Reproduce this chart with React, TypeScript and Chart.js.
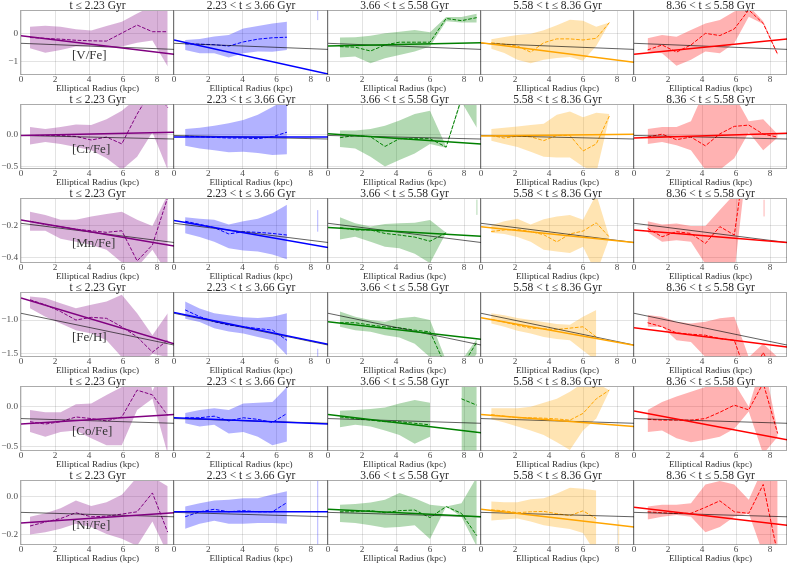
import React, { useEffect, useRef } from "react";
import { Chart, registerables } from "chart.js";

Chart.register(...registerables);

// ----------------------------------------------------------------- data
const columnTitles = [
  "t ≤ 2.23 Gyr",
  "2.23 < t ≤ 3.66 Gyr",
  "3.66 < t ≤ 5.58 Gyr",
  "5.58 < t ≤ 8.36 Gyr",
  "8.36 < t ≤ 5.58 Gyr",
];
const elementLabels = ["[V/Fe]", "[Cr/Fe]", "[Mn/Fe]", "[Fe/H]", "[Co/Fe]", "[Ni/Fe]"];
const xAxisLabel = "Elliptical Radius (kpc)";

const radiusBins = [
  [0.53, 1.43, 2.33, 3.23, 4.13, 5.03, 5.93, 6.83, 7.73, 8.63],
  [0.65, 1.5, 2.35, 3.2, 4.05, 4.9, 5.75, 6.6],
  [0.7, 1.6, 2.5, 3.35, 4.2, 5.1, 6.0, 6.95, 7.85, 8.75],
  [0.6, 1.37, 2.14, 2.92, 3.69, 4.46, 5.23, 6.0, 6.78, 7.55],
  [0.8, 1.65, 2.5, 3.35, 4.2, 5.05, 5.9, 6.75, 7.6, 8.45],
];
const fitRadius = [0, 9];
const xTickValues = [0, 2, 4, 6, 8];

const vFeMedian = [
  [-0.14, -0.17, -0.2, -0.24, -0.26, -0.27, 0.02, 0.31, 0.07, 0.07],
  [-0.37, -0.38, -0.4, -0.45, -0.3, -0.2, -0.15, -0.13],
  [-0.47, -0.49, -0.63, -0.41, -0.31, -0.31, -0.31, 0.55, 0.47, 0.58],
  [-0.33, -0.38, -0.45, -0.67, -0.33, -0.19, -0.19, -0.23, -0.17, 0.4],
  [-0.59, -0.41, -0.67, -0.41, 0.01, -0.07, 0.17, 0.86, 0.37, -0.75],
];
const vFeUpper = [
  [0.25, 0.29, 0.25, 0.16, 0.11, 0.28, 0.43, 0.73, 1.0, 1.0],
  [-0.23, -0.19, -0.1, -0.05, 0.19, 0.28, 0.37, 0.43],
  [-0.14, -0.13, -0.08, 0.01, 0.07, 0.13, 0.05, 0.6, 0.6, 0.72],
  [-0.2, -0.12, -0.05, 0.0, 0.12, 0.3, 0.5, 0.47, 0.25, 0.4],
  [-0.17, -0.05, -0.11, 0.13, 0.37, 0.49, 0.8, 1.0, 0.45, -0.7],
];
const vFeLower = [
  [-0.53, -0.69, -0.59, -0.47, -0.47, -0.51, -0.47, -0.33, -0.25, -1.19],
  [-0.59, -0.71, -0.71, -0.86, -0.71, -0.65, -0.66, -0.59],
  [-0.86, -0.83, -1.07, -0.89, -0.77, -0.65, -0.47, 0.45, 0.4, 0.4],
  [-0.55, -0.7, -0.95, -1.07, -0.95, -0.88, -0.85, -0.98, -0.45, 0.38],
  [-0.65, -0.71, -1.16, -0.95, -0.65, -0.71, -0.35, 0.61, 0.35, -0.78],
];
const vFeFit = [[-0.08, -0.75], [-0.23, -1.46], [-0.45, -0.33], [-0.33, -1.04], [-0.75, -0.19]];
const vFeReference = [-0.35, -0.57];

const crFeMedian = [
  [-0.02, -0.02, -0.02, -0.035, -0.09, -0.045, -0.15, 0.31, 0.7, 0.41],
  [-0.03, -0.04, -0.05, -0.06, -0.06, -0.07, -0.04, 0.03],
  [-0.055, -0.02, -0.04, -0.19, -0.07, -0.07, -0.07, -0.2, 0.55, 0.56],
  [-0.02, -0.06, -0.03, -0.04, -0.1, -0.02, -0.02, -0.26, -0.15, 0.28],
  [-0.045, 0, -0.085, -0.045, -0.18, 0.005, 0.12, 0.14, 0, -0.045],
];
const crFeUpper = [
  [0.11, 0.08, 0.11, 0.15, 0.14, 0.23, 0.36, 0.56, 1.0, 1.0],
  [0.08, 0.1, 0.13, 0.17, 0.22, 0.3, 0.42, 0.54],
  [0.055, 0.055, 0.08, 0.13, 0.21, 0.31, 0.36, -0.19, 0.58, 0.6],
  [0.08, 0.1, 0.12, 0.14, 0.16, 0.3, 0.35, 0.26, 0.33, 0.31],
  [0.08, 0.11, 0.11, 0.2, 0.7, 0.8, 0.6, 0.2, 0.23, 0.0],
];
const crFeLower = [
  [-0.16, -0.12, -0.15, -0.2, -0.25, -0.37, -0.55, -0.35, 0.03, -0.55],
  [-0.18, -0.22, -0.25, -0.28, -0.27, -0.29, -0.32, -0.31],
  [-0.2, -0.22, -0.35, -0.5, -0.4, -0.3, -0.15, -0.21, 0.5, 0.1],
  [-0.1, -0.15, -0.2, -0.27, -0.35, -0.36, -0.36, -0.5, -0.6, 0.26],
  [-0.15, -0.12, -0.17, -0.25, -0.55, -0.55, -0.37, 0.03, -0.25, -0.05],
];
const crFeFit = [[-0.02, 0.03], [-0.045, -0.045], [0.005, -0.15], [-0.03, 0.0], [-0.06, 0.015]];
const crFeReference = [-0.02, -0.075];

const mnFeMedian = [
  [-0.17, -0.19, -0.205, -0.22, -0.23, -0.24, -0.23, -0.42, -0.32, -0.02],
  [-0.17, -0.19, -0.21, -0.25, -0.236, -0.24, -0.247, -0.257],
  [-0.21, -0.225, -0.225, -0.247, -0.257, -0.27, -0.296, -0.243, null, null],
  [-0.235, -0.225, -0.222, -0.235, -0.255, -0.3, -0.25, -0.232, -0.18, -0.27],
  [-0.215, -0.268, -0.236, -0.247, -0.31, -0.204, -0.257, 0.39, null, null],
];
const mnFeUpper = [
  [-0.11, -0.13, -0.16, -0.16, -0.14, -0.125, -0.11, -0.16, -0.2, 0.0],
  [-0.145, -0.155, -0.16, -0.19, -0.17, -0.155, -0.12, -0.066],
  [-0.145, -0.183, -0.204, -0.187, -0.183, -0.18, -0.162, -0.243, null, null],
  [-0.195, -0.17, -0.155, -0.19, -0.157, -0.14, -0.13, -0.16, 0.0, -0.27],
  [-0.17, -0.19, -0.185, -0.2, -0.2, -0.1, 0.0, 0.5, null, null],
];
const mnFeLower = [
  [-0.23, -0.23, -0.28, -0.3, -0.32, -0.35, -0.43, -0.46, -0.35, -0.5],
  [-0.245, -0.27, -0.3, -0.34, -0.355, -0.36, -0.38, -0.41],
  [-0.285, -0.268, -0.3, -0.33, -0.34, -0.375, -0.434, -0.243, null, null],
  [-0.243, -0.25, -0.27, -0.3, -0.35, -0.36, -0.37, -0.33, -0.5, -0.275],
  [-0.24, -0.3, -0.29, -0.3, -0.44, -0.44, -0.5, 0.3, null, null],
];
const mnFeFit = [[-0.162, -0.326], [-0.166, -0.336], [-0.21, -0.264], [-0.204, -0.304], [-0.225, -0.304]];
const mnFeReference = [-0.183, -0.304];

const feHMedian = [
  [-0.7, -0.775, -0.875, -1.0, -0.96, -0.975, -1.1, -1.25, -1.475, -1.3],
  [-0.85, -0.95, -1.025, -1.075, -1.1, -1.125, -1.15, -1.3],
  [-1.04, -1.04, -1.075, -1.1, -1.115, -1.15, -1.175, -1.7, -1.7, -1.33],
  [-0.99, -1.03, -1.08, -1.12, -1.13, -1.14, -1.12, -1.1, -1.25, null],
  [-1.04, -1.1, -1.19, -1.21, -1.225, -1.275, -1.3, -1.9, -1.48, -1.9],
];
const feHUpper = [
  [-0.65, -0.675, -0.75, -0.825, -0.775, -0.725, -0.625, -0.9, -1.225, -0.9],
  [-0.725, -0.83, -0.9, -0.93, -0.96, -0.97, -0.95, -0.9],
  [-0.875, -0.95, -1.0, -1.025, -0.975, -0.95, -1.0, -1.6, -1.6, -1.28],
  [-0.9, -0.93, -0.97, -1.0, -1.03, -1.06, -1.07, -0.95, -0.85, null],
  [-0.925, -0.95, -1.025, -1.05, -1.025, -0.975, -0.95, -1.55, -1.35, -1.55],
];
const feHLower = [
  [-0.825, -0.95, -1.05, -1.15, -1.2, -1.3, -1.55, -1.7, -1.5, -1.55],
  [-0.98, -1.03, -1.12, -1.17, -1.2, -1.25, -1.3, -1.52],
  [-1.1, -1.15, -1.175, -1.225, -1.26, -1.35, -1.55, -1.8, -1.8, -1.5],
  [-1.05, -1.1, -1.16, -1.2, -1.25, -1.28, -1.3, -1.45, -1.6, null],
  [-1.1, -1.1, -1.3, -1.325, -1.55, -1.55, -1.7, -1.8, -1.7, -1.8],
];
const feHFit = [[-0.675, -1.35], [-0.89, -1.36], [-1.025, -1.285], [-0.965, -1.375], [-1.115, -1.4]];
const feHReference = [-0.9, -1.37];

const coFeMedian = [
  [-0.19, -0.22, -0.19, -0.13, -0.15, -0.18, -0.13, 0.21, 0.15, -0.11],
  [-0.14, -0.14, -0.12, -0.18, -0.14, -0.16, -0.2, -0.085],
  [-0.13, -0.15, -0.17, -0.19, -0.19, -0.21, -0.23, null, 0.1, 0.02],
  [-0.1, -0.12, -0.14, -0.14, -0.145, -0.155, -0.17, -0.085, 0.1, 0.21],
  [-0.16, -0.17, -0.17, -0.17, -0.15, -0.07, 0.02, -0.04, 0.3, -0.34],
];
const coFeUpper = [
  [-0.04, -0.07, -0.07, 0.03, 0.04, 0.15, 0.25, 1.0, 0.2, 0.6],
  [-0.08, -0.04, -0.02, -0.04, 0.04, 0.05, 0.06, 0.25],
  [-0.05, -0.04, -0.03, -0.01, 0.04, 0.085, 0.05, null, 0.3, 0.3],
  [-0.02, -0.02, -0.02, 0.0, 0.05, 0.1, 0.19, 0.3, 0.3, 0.21],
  [-0.04, 0.06, 0.13, 0.19, 0.25, 0.3, 0.3, 0.0, 0.6, -0.3],
];
const coFeLower = [
  [-0.32, -0.38, -0.32, -0.3, -0.4, -0.49, -0.49, -0.04, 0.1, -0.6],
  [-0.21, -0.25, -0.23, -0.34, -0.32, -0.38, -0.49, -0.44],
  [-0.26, -0.23, -0.25, -0.3, -0.36, -0.47, -0.38, null, -0.6, -0.6],
  [-0.16, -0.2, -0.25, -0.3, -0.36, -0.45, -0.55, -0.3, -0.15, 0.2],
  [-0.32, -0.3, -0.4, -0.45, -0.42, -0.38, -0.28, -0.06, -0.6, -0.38],
];
const coFeFit = [[-0.22, -0.1], [-0.14, -0.22], [-0.1, -0.33], [-0.1, -0.25], [-0.055, -0.42]];
const coFeReference = [-0.15, -0.21];

const niFeMedian = [
  [-0.154, -0.133, -0.115, -0.085, -0.106, -0.103, -0.092, -0.08, 0.018, -0.186],
  [-0.106, -0.08, -0.067, -0.08, -0.074, -0.08, -0.08, -0.032],
  [-0.08, -0.08, -0.074, -0.085, -0.074, -0.071, -0.11, -0.053, -0.088, -0.204],
  [-0.07, -0.075, -0.085, -0.08, -0.078, -0.09, -0.1, -0.075, -0.115, null],
  [-0.08, -0.085, -0.088, -0.088, -0.057, -0.023, -0.08, -0.088, 0.062, -0.3],
];
const niFeUpper = [
  [-0.106, -0.088, -0.062, -0.021, -0.05, -0.03, 0.009, 0.1, 0.1, 0.053],
  [-0.053, -0.035, -0.021, -0.018, -0.009, -0.009, 0.01, 0.027],
  [-0.044, -0.039, -0.032, -0.018, 0.018, -0.009, -0.044, -0.053, -0.035, 0.1],
  [-0.027, -0.03, -0.03, -0.015, -0.01, 0.015, 0.045, 0.04, 0.03, null],
  [-0.053, -0.044, -0.044, -0.035, 0.062, 0.08, 0.062, -0.018, 0.15, 0.1],
];
const niFeLower = [
  [-0.198, -0.186, -0.168, -0.142, -0.159, -0.195, -0.22, -0.257, -0.13, -0.3],
  [-0.168, -0.142, -0.127, -0.142, -0.142, -0.138, -0.138, -0.142],
  [-0.133, -0.138, -0.15, -0.163, -0.159, -0.15, -0.221, -0.053, -0.106, -0.26],
  [-0.125, -0.12, -0.115, -0.13, -0.15, -0.16, -0.17, -0.19, -0.3, null],
  [-0.12, -0.106, -0.097, -0.106, -0.186, -0.159, -0.106, -0.088, -0.3, -0.3],
];
const niFeFit = [[-0.138, -0.085], [-0.08, -0.08], [-0.067, -0.106], [-0.067, -0.159], [-0.057, -0.15]];
const niFeReference = [-0.083, -0.106];

// isolated single-bin ranges (thin vertical slivers)
const strayRow = [0, 2, 2, 2, 3, 5, 5];
const strayCol = [1, 1, 2, 4, 1, 1, 3];
const strayRadius = [8.4, 8.4, 8.76, 7.65, 8.4, 8.4, 8.1];
const strayLow = [0.49, -0.236, -0.13, -0.14, -1.55, -0.25, -0.25];
const strayHigh = [0.82, -0.1, -0.034, -0.035, -1.425, 0.08, -0.124];

const yLimits = [
  [-1.48, 0.82],
  [-0.53, 0.45],
  [-0.43, -0.03],
  [-1.54, -0.6],
  [-0.555, 0.25],
  [-0.25, 0.08],
];
const yTickValues = [
  [-1, 0],
  [-0.5, 0],
  [-0.4, -0.2],
  [-1.5, -1.0],
  [-0.5, 0.0],
  [-0.2, 0.0],
];
const yTickDecimals = [0, 1, 1, 1, 1, 1];

// ----------------------------------------------------------------- style / layout
const lineColors = ["#800080", "#0000ff", "#008000", "#ffa500", "#ff0000"];
const bandColors = [
  "rgba(128,0,128,0.3)",
  "rgba(0,0,255,0.3)",
  "rgba(0,128,0,0.3)",
  "rgba(255,165,0,0.3)",
  "rgba(255,0,0,0.3)",
];
const FONT = "'Liberation Serif', 'Times New Roman', serif";
const PAGE_W = 789;
const PAGE_H = 566;
const COL_EDGES = [21, 174, 328, 481, 634, 787];
const ROW_TOP0 = 11;
const ROW_STEP = 94;
const PLOT_H = 63.5;
const SIDE_GAP = 10;
const TITLE_SPACE = 14;
const BOTTOM_SPACE = 21;
const TITLE_GAP = 5;
const XLABEL_GAP = 14.5;
const TITLE_SIZE = 11.5;
const TITLE_LH = 0.85;
const XLABEL_SIZE = 9.2;
const TICK_SIZE = 9.2;

const elementData = [
  { median: vFeMedian, upper: vFeUpper, lower: vFeLower, fit: vFeFit, reference: vFeReference },
  { median: crFeMedian, upper: crFeUpper, lower: crFeLower, fit: crFeFit, reference: crFeReference },
  { median: mnFeMedian, upper: mnFeUpper, lower: mnFeLower, fit: mnFeFit, reference: mnFeReference },
  { median: feHMedian, upper: feHUpper, lower: feHLower, fit: feHFit, reference: feHReference },
  { median: coFeMedian, upper: coFeUpper, lower: coFeLower, fit: coFeFit, reference: coFeReference },
  { median: niFeMedian, upper: niFeUpper, lower: niFeLower, fit: niFeFit, reference: niFeReference },
];

function toPoints(xs: number[], ys: (number | null)[]) {
  return xs.map((x, i) => ({ x, y: ys[i] === undefined ? null : ys[i] }));
}

function formatTick(v: number, dec: number) {
  return Number(v).toFixed(dec).replace("-", "\u2212");
}

function Panel({ row, col }: { row: number; col: number }) {
  const ref = useRef<HTMLCanvasElement | null>(null);
  const L = COL_EDGES[col];
  const R = COL_EDGES[col + 1];
  const T = ROW_TOP0 + ROW_STEP * row;
  const B = T + PLOT_H;
  const canvasLeft = col === 0 ? 0 : L - SIDE_GAP;
  const canvasRight = col === 4 ? PAGE_W : R + SIDE_GAP;
  const canvasTop = T - TITLE_SPACE;
  const canvasBottom = Math.ceil(B + BOTTOM_SPACE);
  const w = canvasRight - canvasLeft;
  const h = canvasBottom - canvasTop;

  useEffect(() => {
    const canvas = ref.current;
    if (!canvas) return;
    const d = elementData[row];
    const xs = radiusBins[col];
    const datasets: any[] = [
      {
        data: toPoints(fitRadius, d.fit[col]),
        borderColor: lineColors[col],
        borderWidth: 1.5,
        pointRadius: 0,
        fill: false,
      },
      {
        data: toPoints(fitRadius, d.reference),
        borderColor: "rgba(0,0,0,0.62)",
        borderWidth: 1,
        pointRadius: 0,
        fill: false,
      },
      {
        data: toPoints(xs, d.median[col]),
        borderColor: lineColors[col],
        borderWidth: 1,
        borderDash: [3.7, 1.6],
        pointRadius: 0,
        fill: false,
      },
      {
        data: toPoints(xs, d.upper[col]),
        borderColor: "rgba(0,0,0,0)",
        borderWidth: 0,
        backgroundColor: bandColors[col],
        pointRadius: 0,
        fill: "+1",
      },
      {
        data: toPoints(xs, d.lower[col]),
        borderColor: "rgba(0,0,0,0)",
        borderWidth: 0,
        pointRadius: 0,
        fill: false,
      },
    ];
    strayRow.forEach((r, i) => {
      if (r === row && strayCol[i] === col) {
        datasets.push({
          data: [
            { x: strayRadius[i], y: strayLow[i] },
            { x: strayRadius[i], y: strayHigh[i] },
          ],
          borderColor: bandColors[col],
          borderWidth: 1,
          pointRadius: 0,
          fill: false,
        });
      }
    });

    const titleLh = TITLE_SIZE * TITLE_LH;
    const titlePb = Math.max(0, TITLE_GAP - titleLh / 2);
    const titlePt = TITLE_SPACE - titleLh - titlePb;
    const xAxisH = canvasBottom - B;
    const xLabelPb = xAxisH - XLABEL_GAP - XLABEL_SIZE / 2;

    const framePlugin = {
      id: "panelFrame",
      afterDatasetsDraw(chart: any) {
        const { ctx, chartArea: a } = chart;
        ctx.save();
        ctx.strokeStyle = "rgba(0,0,0,0.33)";
        ctx.lineWidth = 1;
        const l = Math.round(a.left) - 0.5;
        const r = Math.round(a.right) - 0.5;
        const t = Math.round(a.top) - 0.5;
        const b = Math.round(a.bottom) - 0.5;
        ctx.strokeRect(l, t, r - l, b - t);
        if (col === 0) {
          ctx.fillStyle = "#333333";
          ctx.font = `13px ${FONT}`;
          ctx.textAlign = "left";
          ctx.textBaseline = "middle";
          ctx.fillText(
            elementLabels[row],
            a.left + (a.right - a.left) * 0.333,
            a.top + (a.bottom - a.top) * 0.7
          );
        }
        ctx.restore();
      },
    };

    const chart = new Chart(canvas, {
      type: "line",
      data: { datasets },
      options: {
        responsive: false,
        maintainAspectRatio: false,
        animation: false,
        events: [],
        clip: 0 as any,
        layout: { padding: { left: 0, right: canvasRight - R, top: 0, bottom: 0 } },
        elements: { line: { tension: 0 } },
        plugins: {
          legend: { display: false },
          tooltip: { enabled: false },
          title: {
            display: true,
            text: columnTitles[col],
            fullSize: false,
            color: "#262626",
            font: { family: FONT, size: TITLE_SIZE, weight: "normal", lineHeight: TITLE_LH },
            padding: { top: titlePt, bottom: titlePb },
          },
        },
        scales: {
          x: {
            type: "linear",
            min: 0,
            max: 9,
            afterBuildTicks: (s: any) => {
              s.ticks = xTickValues.map((v) => ({ value: v }));
            },
            afterFit: (s: any) => {
              s.height = xAxisH;
            },
            border: { display: false },
            grid: { color: "rgba(0,0,0,0.11)", lineWidth: 1, drawTicks: false },
            ticks: {
              color: "#4d4d4d",
              padding: 0.5,
              maxRotation: 0,
              font: { family: FONT, size: TICK_SIZE, lineHeight: 1 },
              callback: (v: any) => String(v),
            },
            title: {
              display: true,
              text: xAxisLabel,
              color: "#333333",
              font: { family: FONT, size: XLABEL_SIZE, lineHeight: 1 },
              padding: { top: 0, bottom: xLabelPb },
            },
          },
          y: {
            type: "linear",
            min: yLimits[row][0],
            max: yLimits[row][1],
            afterBuildTicks: (s: any) => {
              s.ticks = yTickValues[row].map((v) => ({ value: v }));
            },
            afterFit: (s: any) => {
              s.width = L - canvasLeft;
            },
            border: { display: false },
            grid: { color: "rgba(0,0,0,0.11)", lineWidth: 1, drawTicks: false },
            ticks: {
              display: col === 0,
              color: "#4d4d4d",
              padding: 3,
              font: { family: FONT, size: TICK_SIZE, lineHeight: 1 },
              callback: (v: any) => formatTick(Number(v), yTickDecimals[row]),
            },
          },
        },
      } as any,
      plugins: [framePlugin],
    });
    return () => chart.destroy();
  }, [row, col]);

  return (
    <canvas
      ref={ref}
      width={w}
      height={h}
      style={{ position: "absolute", left: canvasLeft, top: canvasTop, width: w, height: h }}
    />
  );
}

export default function App() {
  const cells: React.ReactNode[] = [];
  for (let r = 0; r < elementLabels.length; r++) {
    for (let c = 0; c < columnTitles.length; c++) {
      cells.push(<Panel key={`${r}-${c}`} row={r} col={c} />);
    }
  }
  return (
    <div
      style={{
        position: "absolute",
        left: 0,
        top: 0,
        width: PAGE_W,
        height: PAGE_H,
        overflow: "hidden",
        background: "#ffffff",
      }}
    >
      {cells}
    </div>
  );
}
